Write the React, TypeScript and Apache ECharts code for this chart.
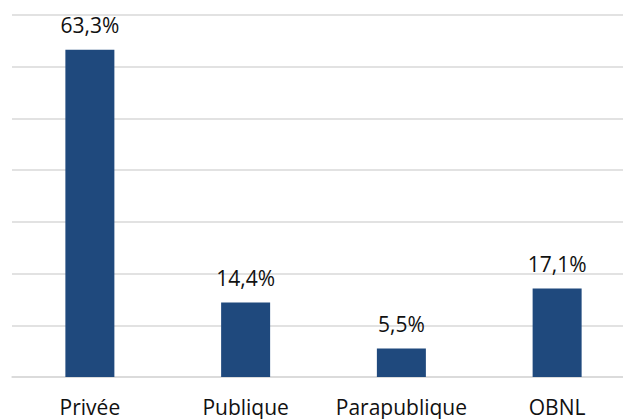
import React, { useEffect, useRef } from "react";
import * as echarts from "echarts";

const categories = ["Privée", "Publique", "Parapublique", "OBNL"];
const values = [63.3, 14.4, 5.5, 17.1];
const yMax = 70;
const yInterval = 10;

export default function App() {
  const ref = useRef<HTMLDivElement>(null);
  useEffect(() => {
    if (!ref.current) return;
    const chart = echarts.init(ref.current, null, { renderer: "svg" });
    chart.setOption({
      animation: false,
      textStyle: { fontFamily: "Open Sans" },
      grid: { left: 12, top: 15, bottom: 42, right: 0 },
      xAxis: {
        type: "category",
        data: categories,
        axisTick: { show: false },
        axisLine: { lineStyle: { color: "#d9d9d9", width: 1.5 } },
        axisLabel: { color: "#111", fontSize: 21, margin: 19, interval: 0, fontFamily: "Open Sans" },
      },
      yAxis: {
        type: "value",
        min: 0,
        max: yMax,
        interval: yInterval,
        axisLabel: { show: false },
        axisLine: { show: false },
        axisTick: { show: false },
        splitLine: { lineStyle: { color: "#d9d9d9", width: 1.5 } },
      },
      series: [
        {
          type: "bar",
          data: values,
          barWidth: 49,
          itemStyle: { color: "#1f497d" },
          label: {
            show: true,
            position: "top",
            distance: 14,
            color: "#111",
            fontSize: 21,
            fontFamily: "Open Sans",
            formatter: (p: any) => p.value.toFixed(1).replace(".", ",") + "%",
          },
        },
      ],
    });
    return () => chart.dispose();
  }, []);
  return (
    <div style={{ position: "fixed", left: 0, top: 0, width: 623, height: 419, overflow: "hidden", background: "#fff" }}>
      <div ref={ref} style={{ position: "absolute", left: 0, top: 0, width: 635, height: 419 }} />
    </div>
  );
}
